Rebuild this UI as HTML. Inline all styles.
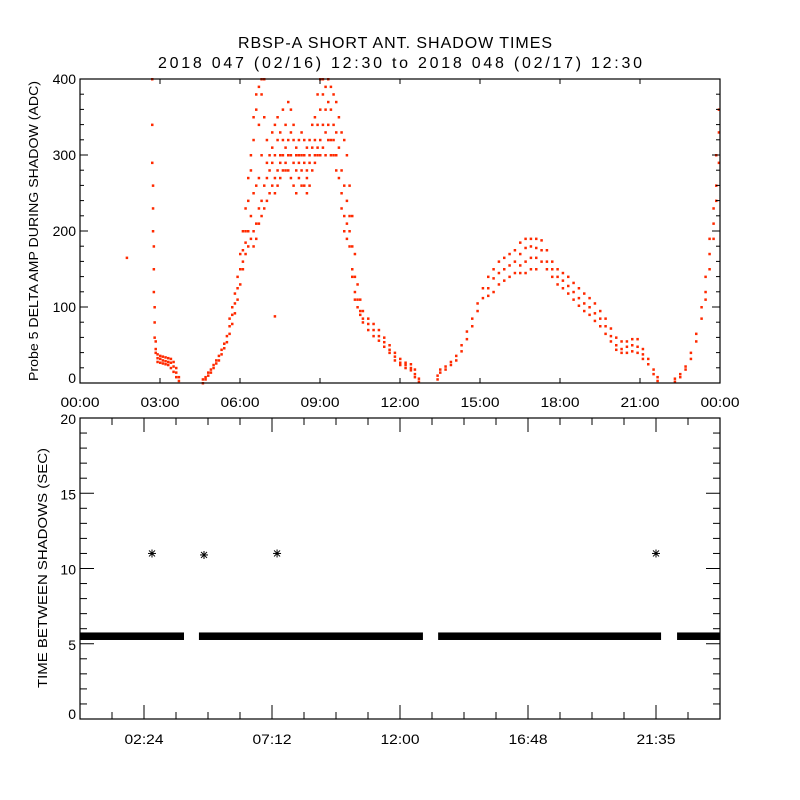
<!DOCTYPE html>
<html><head><meta charset="utf-8"><style>
body{margin:0;background:#fff;}
svg{display:block;font-family:"Liberation Sans",sans-serif;}
</style></head><body>
<svg id="c" width="800" height="800" viewBox="0 0 800 800">
<rect width="800" height="800" fill="#fff"/>
<text x="395" y="48" text-anchor="middle" font-size="16" textLength="314" lengthAdjust="spacing">RBSP-A SHORT ANT. SHADOW TIMES</text>
<text x="400" y="68" text-anchor="middle" font-size="16" textLength="484" lengthAdjust="spacing">2018 047 (02/16) 12:30 to 2018 048 (02/17) 12:30</text>
<g id="topPanel"></g>
<g id="botPanel"></g>
</svg>
<script>
// ---- top panel data (hours, ADC) ----
const topTimes = [1.75,2.70,2.73,2.76,2.79,2.83,2.9,3.0,3.1,3.2,3.3,3.4,3.5,3.6,3.7,
4.6,4.7,4.8,4.9,5.0,5.1,5.2,5.3,5.4,5.5,5.6,5.7,5.8,5.9,6.0,6.1,6.2,6.3,6.4,6.5,6.6,6.7,6.8,6.9,7.0,7.1,7.2,7.3,7.4,7.5,7.6,7.7,7.8,7.9,8.0,8.1,8.2,8.3,8.4,8.5,8.6,8.7,8.8,8.9,9.0,9.1,9.2,9.3,9.4,9.5,9.6,9.7,9.8,9.9,10.0,10.1,10.2,10.3,10.4,10.5,10.6,10.8,11.0,11.2,11.4,11.6,11.8,12.0,12.2,12.4,12.55,12.7,7.3,
13.4,13.5,13.7,13.9,14.1,14.3,14.5,14.7,14.9,15.1,15.3,15.5,15.7,15.9,16.1,16.3,16.5,16.7,16.9,17.1,17.3,17.5,17.7,17.9,18.1,18.3,18.5,18.7,18.9,19.1,19.3,19.5,19.7,19.9,20.1,20.3,20.5,20.7,20.9,21.1,21.3,21.5,21.65,
22.3,22.5,22.7,22.9,23.1,23.3,23.45,23.6,23.75,23.85,23.95];
const topValues = [[165],[400,340,290],[260,230,200],[180,150,120],[100,80,60],[55,45,40],[38,33,28],[36,32,27],[35,30,26],[34,29,25],[33,28,24],[32,27,20],[28,22,15],[20,14,8],[8,3],
[0,5],[8,5],[14,10],[18,14],[24,20],[30,26],[36,30],[44,38],[52,46],[62,54],[75,65,85],[90,78,100],[105,92,118],[125,110,140],[150,130,170],[175,150,200,160],[200,170,230,185],[240,200,270,180],[280,220,300,190],[320,250,200,180,350],[360,260,210,190,380],[390,230,210,270,340],[400,380,240,220,300],[400,350,260,230],[320,270,240,290],[300,250,280],[310,260,290,330],[300,270,340,250],[320,280,260,350],[330,290,300,270],[360,300,320,280],[340,310,280,290],[370,320,300,280],[360,300,330,270],[340,320,290,260],[310,300,280,250],[320,290,270,300],[330,300,280,260],[320,290,260,300],[310,280,270,250],[320,300,260,290],[340,310,280],[350,320,300,290],[380,340,310,300],[400,360,320,300],[400,380,340,310],[390,360,330,300],[400,370,340,320],[390,360,320,300],[380,340,300,320],[370,330,300,280],[350,310,270],[330,280,250,230],[320,260,220,200],[300,240,210,190],[260,220,180,200],[220,180,150,140],[170,140,120,110],[130,110,100],[110,95,90],[95,85,80],[85,78,70],[78,70,62],[70,62,56],[60,54,48],[50,44,40],[40,35,30],[32,27,24],[27,24,20],[25,20,17],[18,12,8],[6,2],[88],
[5,10],[18,14],[22,18],[28,24],[36,30],[50,42],[68,58],[85,75],[105,95],[125,112],[140,125,115],[150,138,120],[160,145,130],[165,150,135],[170,155,140],[175,160,145],[185,170,155,145],[190,178,160,145],[190,180,165,150],[190,178,165,150],[188,175,160],[175,160,150],[160,150,140],[150,140,130],[145,135,125],[140,128,118],[132,120,110],[125,112,102],[118,105,95],[112,100,90],[105,92,82],[95,85,75],[85,75,65],[72,62,55],[60,50,44],[55,45,40],[55,48,40],[58,50,42],[58,48,40],[45,38,32],[32,25],[18,12],[8,3],
[2,6],[12,8],[22,18],[40,32],[65,55],[100,85],[140,120,110],[190,170,150],[230,210,190],[300,260,240],[360,330,290]];
const topYTicks = [0,100,200,300,400];
const topXTickLabels = ["00:00","03:00","06:00","09:00","12:00","15:00","18:00","21:00","00:00"];
// ---- bottom panel data ----
const bandStarts = [0,4.46,13.43,22.39];
const bandEnds = [3.9,12.86,21.79,24];
const bandLow = [5.25,5.25,5.25,5.25];
const bandHigh = [5.75,5.75,5.75,5.75];
const starTimes = [2.7,4.65,7.39,21.6];
const starValues = [11,10.9,11,11];
const botYTicks = [0,5,10,15,20];
const botXTickLabels = ["02:24","07:12","12:00","16:48","21:35"];

const NS="http://www.w3.org/2000/svg";
function mk(p,tag,at){const e=document.createElementNS(NS,tag);for(const k in at)e.setAttribute(k,at[k]);p.appendChild(e);return e;}
const X0=80,X1=720;
const xs=h=>X0+h/24*(X1-X0);
// top
const T0=383,T1=79;
const ty=v=>T0-v/400*(T0-T1);
const topG=document.getElementById('topPanel');
const pts=mk(topG,'g',{fill:'#ff2a00'});


topTimes.forEach((t,i)=>{(topValues[i]||[]).forEach(v=>{
  const r=mk(pts,'rect',{x:xs(t)-1,y:ty(v)-1,width:2.5,height:2.5});
  
  
});});
const f1=mk(topG,'rect',{x:X0,y:T1,width:X1-X0,height:T0-T1,fill:'none',stroke:'#000','stroke-width':1.2});


for(let v=0;v<=400;v+=20){const L=v%100===0?8:4;
  mk(topG,'line',{x1:X0,x2:X0+L,y1:ty(v),y2:ty(v),stroke:'#000'});
  mk(topG,'line',{x1:X1,x2:X1-L,y1:ty(v),y2:ty(v),stroke:'#000'});}
topYTicks.forEach(v=>{const t=mk(topG,'text',{x:X0-4,y:Math.min(ty(v)+5,T0),'text-anchor':'end','font-size':14});t.textContent=v;
  
  });
topXTickLabels.forEach((s,i)=>{const x=xs(i*3);
  mk(topG,'line',{x1:x,x2:x,y1:T1,y2:T1+5,stroke:'#000'});
  mk(topG,'line',{x1:x,x2:x,y1:T0,y2:T0-5,stroke:'#000'});
  const t=mk(topG,'text',{x:x,y:407,'text-anchor':'middle','font-size':14,textLength:39,lengthAdjust:'spacingAndGlyphs'});t.textContent=s;
  
  });
const yt1=mk(topG,'text',{x:0,y:0,transform:'translate(38,231) rotate(-90)','text-anchor':'middle','font-size':13,textLength:300,lengthAdjust:'spacingAndGlyphs'});
yt1.textContent='Probe 5 DELTA AMP DURING SHADOW (ADC)';


// bottom
const B0=719,B1=418;
const by=v=>B0-v/20*(B0-B1);
const botG=document.getElementById('botPanel');
bandStarts.forEach((s,i)=>{const r=mk(botG,'rect',{x:xs(s),y:by(bandHigh[i]),width:xs(bandEnds[i])-xs(s),height:by(bandLow[i])-by(bandHigh[i]),fill:'#000'});
  
  });
starTimes.forEach((t,i)=>{const x=xs(t),y=by(starValues[i]);const g=mk(botG,'g',{stroke:'#000','stroke-width':1});
  
  
  mk(g,'line',{x1:x-4,x2:x+4,y1:y,y2:y});mk(g,'line',{x1:x,x2:x,y1:y-4,y2:y+4});
  mk(g,'line',{x1:x-3,x2:x+3,y1:y-3,y2:y+3});mk(g,'line',{x1:x-3,x2:x+3,y1:y+3,y2:y-3});});
const f2=mk(botG,'rect',{x:X0,y:B1,width:X1-X0,height:B0-B1,fill:'none',stroke:'#000','stroke-width':1.2});


for(let v=0;v<=20;v++){const L=v%5===0?14:7;
  mk(botG,'line',{x1:X0,x2:X0+L,y1:by(v),y2:by(v),stroke:'#000'});
  mk(botG,'line',{x1:X1,x2:X1-L,y1:by(v),y2:by(v),stroke:'#000'});}
botYTicks.forEach(v=>{const t=mk(botG,'text',{x:X0-4,y:Math.min(by(v)+6,B0),'text-anchor':'end','font-size':14});t.textContent=v;
  
  });
for(let k=0;k<=20;k++){const x=xs(k*1.2);const L=(k%4===2)?14:7;
  mk(botG,'line',{x1:x,x2:x,y1:B0,y2:B0-L,stroke:'#000'});
  mk(botG,'line',{x1:x,x2:x,y1:B1,y2:B1+L,stroke:'#000'});}
botXTickLabels.forEach((s,i)=>{const t=mk(botG,'text',{x:xs(2.4+i*4.8),y:744,'text-anchor':'middle','font-size':14,textLength:39,lengthAdjust:'spacingAndGlyphs'});t.textContent=s;
  
  });
const yt2=mk(botG,'text',{x:0,y:0,transform:'translate(47,568) rotate(-90)','text-anchor':'middle','font-size':13,textLength:240,lengthAdjust:'spacingAndGlyphs'});
yt2.textContent='TIME BETWEEN SHADOWS (SEC)';


</script>
</body></html>
